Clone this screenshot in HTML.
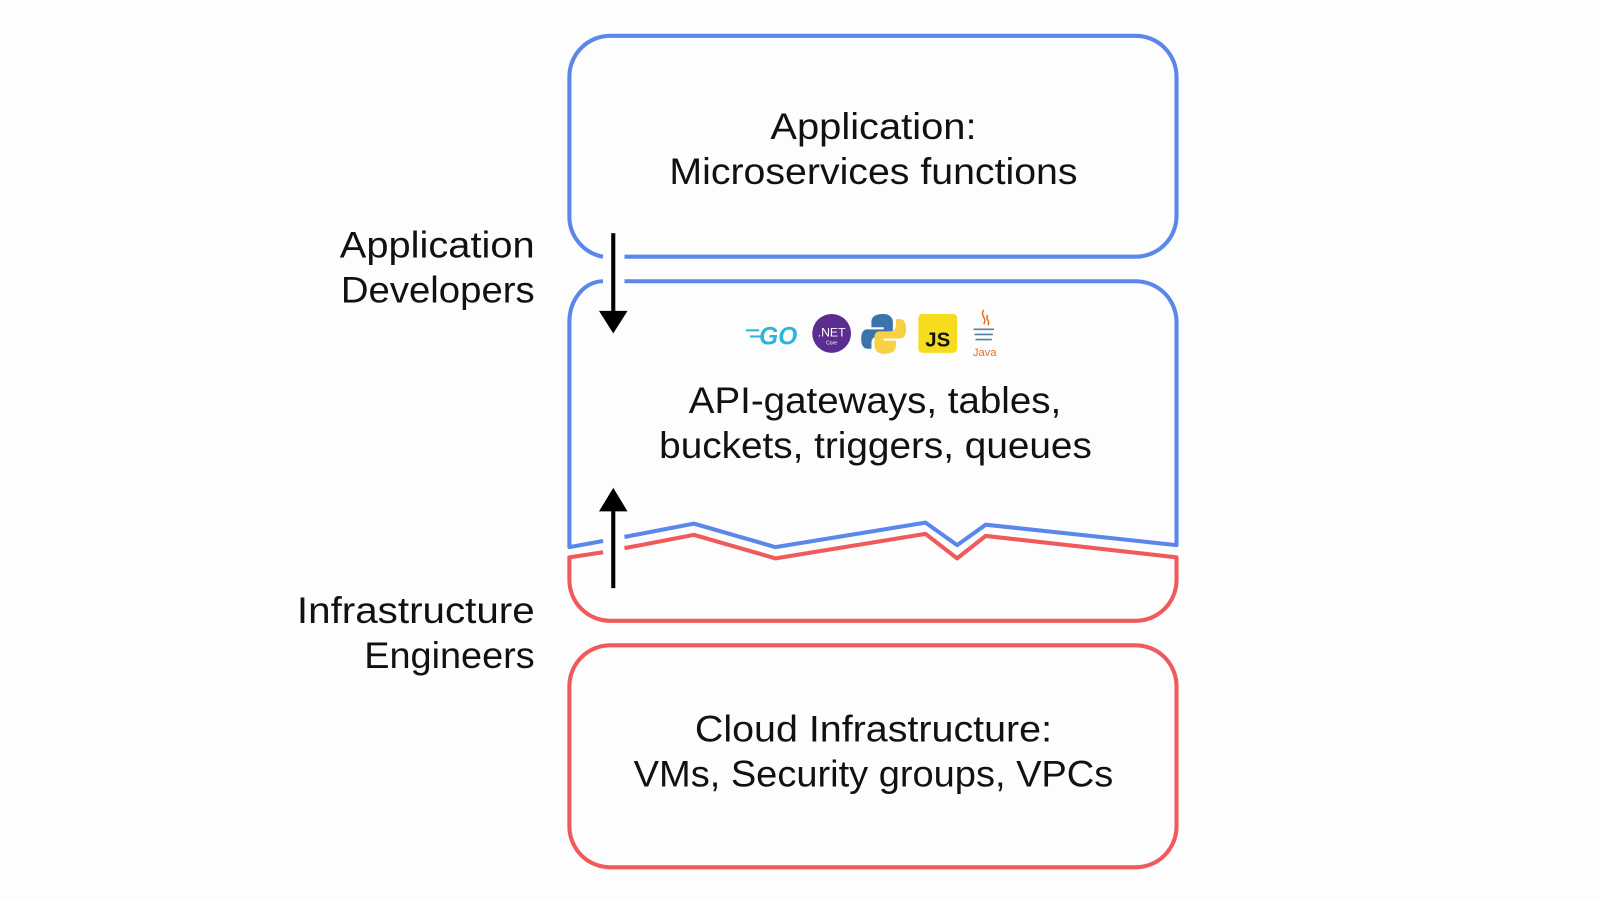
<!DOCTYPE html>
<html><head><meta charset="utf-8"><style>
html,body{margin:0;padding:0;background:#fff;}
svg{display:block}
text{font-family:"Liberation Sans",sans-serif;fill:#111;}
</style></head><body>
<svg width="1600" height="900" viewBox="0 0 1568 880" preserveAspectRatio="none" xmlns="http://www.w3.org/2000/svg">
<rect width="1568" height="880" fill="#fdfdfd"/>
<g fill="none" stroke-width="4" stroke-linejoin="round">
<path d="M591 251 A40 40 0 0 1 558 211 V75 A40 40 0 0 1 598 35 H1113 A40 40 0 0 1 1153 75 V211 A40 40 0 0 1 1113 251 H612" stroke="#5b86ea"/>
<path d="M591 275 A33 40 0 0 0 558 315 V535 L591 529" stroke="#5b86ea"/>
<path d="M612 275 H1113 A40 40 0 0 1 1153 315 V533 L966 513 L938 533 L907 511 L760 535 L680 512 L612 525" stroke="#5b86ea"/>
<path d="M591 540 L558 545 V567 A40 40 0 0 0 598 607 H1113 A40 40 0 0 0 1153 567 V545 L966 524 L938 546 L907 522 L760 546 L680 523 L612 536" stroke="#f05a5a"/>
<rect x="558" y="631" width="595" height="217" rx="40" stroke="#f05a5a"/>
</g>
<line x1="601" y1="228" x2="601" y2="308" stroke="#000" stroke-width="4"/>
<polygon points="587,304 615,304 601,326" fill="#000"/>
<line x1="601" y1="575" x2="601" y2="495" stroke="#000" stroke-width="4"/>
<polygon points="587,500 615,500 601,477" fill="#000"/>
<g font-size="36" lengthAdjust="spacingAndGlyphs">
<text x="755" y="136" textLength="202" lengthAdjust="spacingAndGlyphs">Application:</text>
<text x="656" y="180" textLength="400" lengthAdjust="spacingAndGlyphs">Microservices functions</text>
<text x="675" y="404" textLength="365" lengthAdjust="spacingAndGlyphs">API-gateways, tables,</text>
<text x="646" y="448" textLength="424" lengthAdjust="spacingAndGlyphs">buckets, triggers, queues</text>
<text x="681" y="725" textLength="350" lengthAdjust="spacingAndGlyphs">Cloud Infrastructure:</text>
<text x="621" y="769" textLength="470" lengthAdjust="spacingAndGlyphs">VMs, Security groups, VPCs</text>
<text x="333" y="252" textLength="191" lengthAdjust="spacingAndGlyphs">Application</text>
<text x="334" y="296" textLength="190" lengthAdjust="spacingAndGlyphs">Developers</text>
<text x="291" y="609" textLength="233" lengthAdjust="spacingAndGlyphs">Infrastructure</text>
<text x="357" y="653" textLength="167" lengthAdjust="spacingAndGlyphs">Engineers</text>
</g>
<g>
<line x1="731" y1="323" x2="744" y2="323" stroke="#29b6d8" stroke-width="2"/>
<line x1="735" y1="329" x2="746" y2="329" stroke="#29b6d8" stroke-width="2"/>
<text x="744" y="337" font-size="24" font-weight="bold" font-style="italic" style="fill:#29b6d8">GO</text>
<circle cx="815" cy="326" r="19" fill="#5c2d91"/>
<text x="815" y="329" font-size="12" text-anchor="middle" style="fill:#fff">.NET</text>
<text x="815" y="337" font-size="5" text-anchor="middle" style="fill:#fff">Core</text>
<path d="M866 307 c-10 0 -12 4 -12 8 v5 h12 v2 h-16 c-5 0 -6 5 -6 10 s2 9 6 9 h4 v-6 c0-4 3-6 6-6 h10 c3 0 5-2 5-5 v-9 c0-5-4-8-9-8z" fill="#3b74ab"/>
<path d="M866 346 c10 0 12-4 12-8 v-5 h-12 v-2 h16 c5 0 6-5 6-10 s-2-9-6-9 h-4 v6 c0 4-3 6-6 6 h-10 c-3 0-5 2-5 5 v9 c0 5 4 8 9 8z" fill="#f7d046"/>
<rect x="900" y="307" width="38" height="38" rx="4" fill="#f5dd1e"/>
<text x="919" y="339" font-size="20" font-weight="bold" text-anchor="middle">JS</text>
<path d="M964 303 c-4 6 4 8 0 14 M968 308 c-3 4 3 6 0 10" stroke="#e86f1c" stroke-width="1.5" fill="none"/>
<path d="M954 322 h20 M955 327 h18 M956 332 h16" stroke="#5382a1" stroke-width="1.5"/>
<text x="965" y="348" font-size="11" text-anchor="middle" style="fill:#e86f1c">Java</text>
</g>
</svg>
</body></html>
